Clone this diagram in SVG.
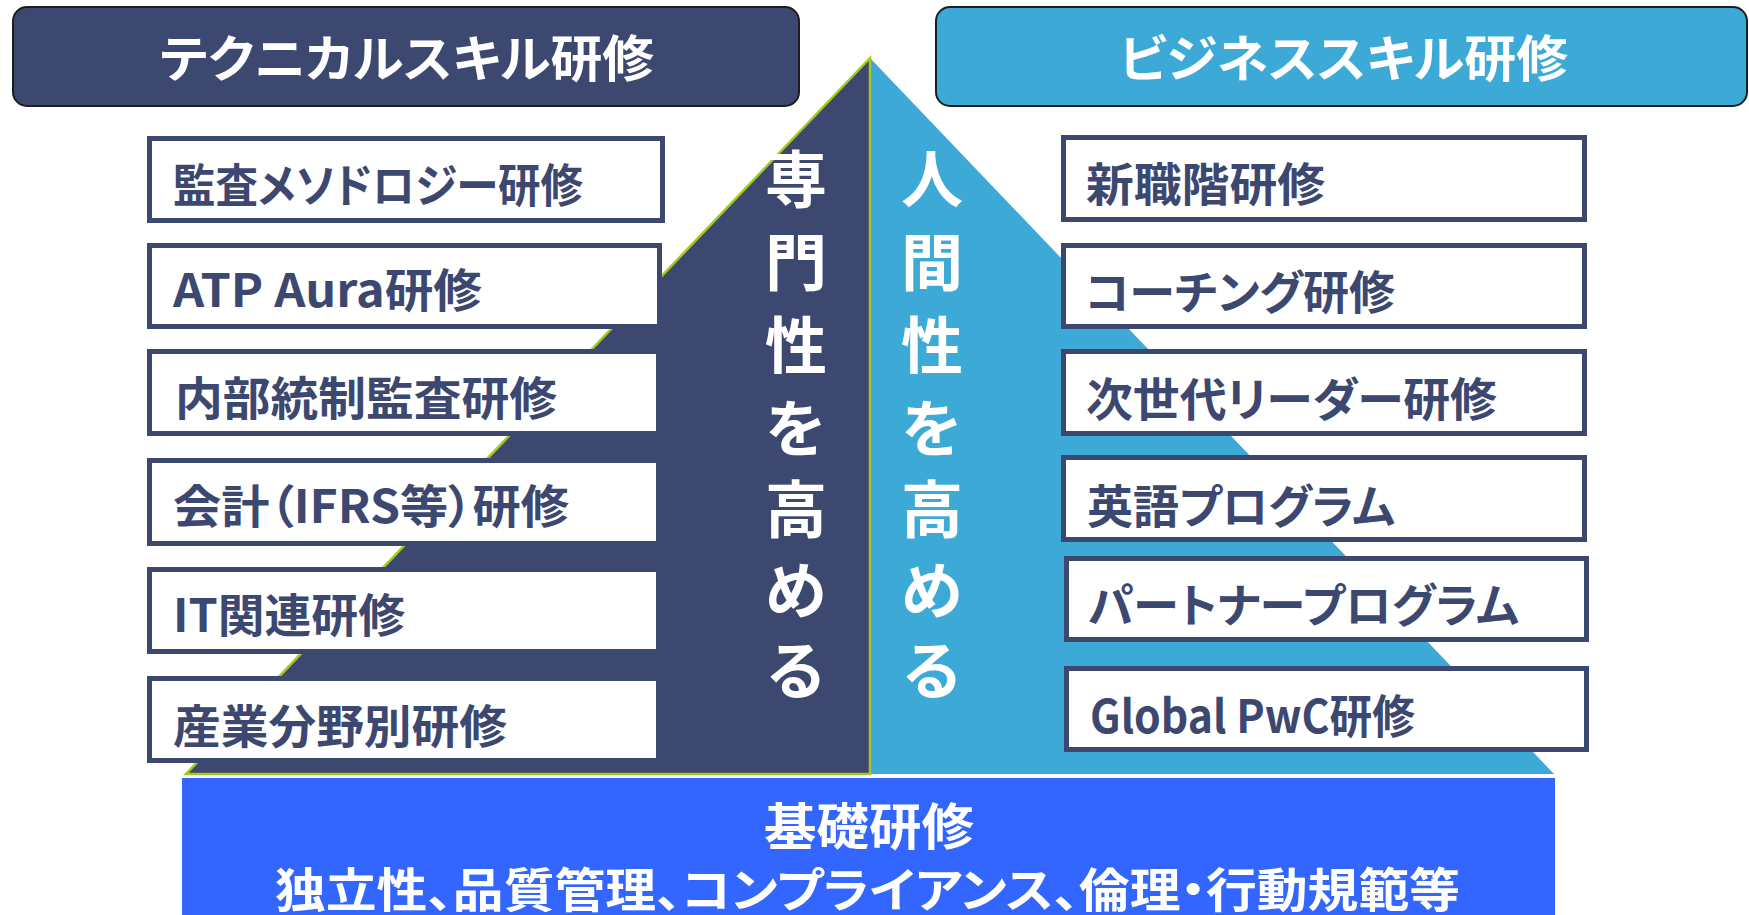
<svg xmlns="http://www.w3.org/2000/svg" width="1749" height="915" viewBox="0 0 1749 915">
<style>
.hdr{stroke:#1e1e1e;stroke-width:2}
.box{fill:#ffffff;stroke:#3C4870;stroke-width:5}
.bt{font-family:"Noto Sans CJK JP","Noto Sans",sans-serif;font-weight:700;font-size:46px;fill:#3C4870;dominant-baseline:central;font-feature-settings:"palt"}
.wt{font-family:"Noto Sans CJK JP","Noto Sans",sans-serif;font-weight:700;fill:#ffffff;dominant-baseline:central;font-feature-settings:"palt"}
.vt{font-family:"Noto Sans CJK JP",sans-serif;font-weight:700;font-size:62px;fill:#ffffff;text-anchor:middle;dominant-baseline:central}
</style>
<rect width="1749" height="915" fill="#ffffff"/>
<g id="pyramid">
<polygon points="870,58 1554,774 870,774" fill="#3DA9D6"/>
<polygon points="870,58 186,774 870,774" fill="#3C4870" stroke="#A5C81E" stroke-width="2.5" stroke-linejoin="miter"/>
</g>
<g id="header-technical">
<rect class="hdr" x="13" y="7" width="786" height="99" rx="14" fill="#3C4870"/>
<text class="wt" x="160" y="55" font-size="50" textLength="494" lengthAdjust="spacingAndGlyphs">テクニカルスキル研修</text>
</g>
<g id="header-business">
<rect class="hdr" x="936" y="7" width="811" height="99" rx="14" fill="#3DA9D6"/>
<text class="wt" x="1119" y="55" font-size="50" textLength="449" lengthAdjust="spacingAndGlyphs">ビジネススキル研修</text>
</g>
<g id="label-expertise">
<text class="vt"><tspan x="796" y="176">専</tspan><tspan x="796" y="259">門</tspan><tspan x="796" y="342">性</tspan><tspan x="796" y="425">を</tspan><tspan x="796" y="506">高</tspan><tspan x="796" y="587">め</tspan><tspan x="796" y="667">る</tspan></text>
</g>
<g id="label-humanity">
<text class="vt"><tspan x="932" y="176">人</tspan><tspan x="932" y="259">間</tspan><tspan x="932" y="342">性</tspan><tspan x="932" y="425">を</tspan><tspan x="932" y="506">高</tspan><tspan x="932" y="587">め</tspan><tspan x="932" y="667">る</tspan></text>
</g>
<g id="box-l1"><rect class="box" x="149.5" y="138.5" width="513" height="82"/><text class="bt" x="173" y="182" textLength="410" lengthAdjust="spacingAndGlyphs">監査メソドロジー研修</text></g>
<g id="box-l2"><rect class="box" x="149.5" y="245.5" width="510" height="81"/><text class="bt" x="173" y="287" textLength="309" lengthAdjust="spacingAndGlyphs">ATP Aura研修</text></g>
<g id="box-l3"><rect class="box" x="149.5" y="351.5" width="509" height="82"/><text class="bt" x="175" y="395" textLength="382" lengthAdjust="spacingAndGlyphs">内部統制監査研修</text></g>
<g id="box-l4"><rect class="box" x="149.5" y="460.5" width="509" height="83"/><text class="bt" x="173" y="503" textLength="396" lengthAdjust="spacingAndGlyphs">会計（IFRS等）研修</text></g>
<g id="box-l5"><rect class="box" x="149.5" y="569.5" width="509" height="82"/><text class="bt" x="173" y="612" textLength="232" lengthAdjust="spacingAndGlyphs">IT関連研修</text></g>
<g id="box-l6"><rect class="box" x="149.5" y="678.5" width="509" height="82"/><text class="bt" x="173" y="723" textLength="334" lengthAdjust="spacingAndGlyphs">産業分野別研修</text></g>
<g id="box-r1"><rect class="box" x="1063.5" y="137.5" width="521" height="82"/><text class="bt" x="1086" y="181" textLength="239" lengthAdjust="spacingAndGlyphs">新職階研修</text></g>
<g id="box-r2"><rect class="box" x="1063.5" y="245.5" width="521" height="81"/><text class="bt" x="1085" y="289" textLength="310" lengthAdjust="spacingAndGlyphs">コーチング研修</text></g>
<g id="box-r3"><rect class="box" x="1063.5" y="351.5" width="521" height="82"/><text class="bt" x="1086" y="396" textLength="411" lengthAdjust="spacingAndGlyphs">次世代リーダー研修</text></g>
<g id="box-r4"><rect class="box" x="1063.5" y="457.5" width="521" height="82"/><text class="bt" x="1087" y="503" textLength="308" lengthAdjust="spacingAndGlyphs">英語プログラム</text></g>
<g id="box-r5"><rect class="box" x="1066.5" y="558.5" width="520" height="81"/><text class="bt" x="1088" y="602" textLength="431" lengthAdjust="spacingAndGlyphs">パートナープログラム</text></g>
<g id="box-r6"><rect class="box" x="1066.5" y="668.5" width="520" height="81"/><text class="bt" x="1090" y="713" textLength="325" lengthAdjust="spacingAndGlyphs">Global PwC研修</text></g>
<g id="base">
<rect x="182" y="778" width="1373" height="137" fill="#3366FF"/>
<text class="wt" x="764" y="823" font-size="50" textLength="210" lengthAdjust="spacingAndGlyphs">基礎研修</text>
<text class="wt" x="275" y="886" font-size="47" textLength="1185" lengthAdjust="spacingAndGlyphs">独立性、品質管理、コンプライアンス、倫理・行動規範等</text>
</g>
<g id="connectors"/>
</svg>
